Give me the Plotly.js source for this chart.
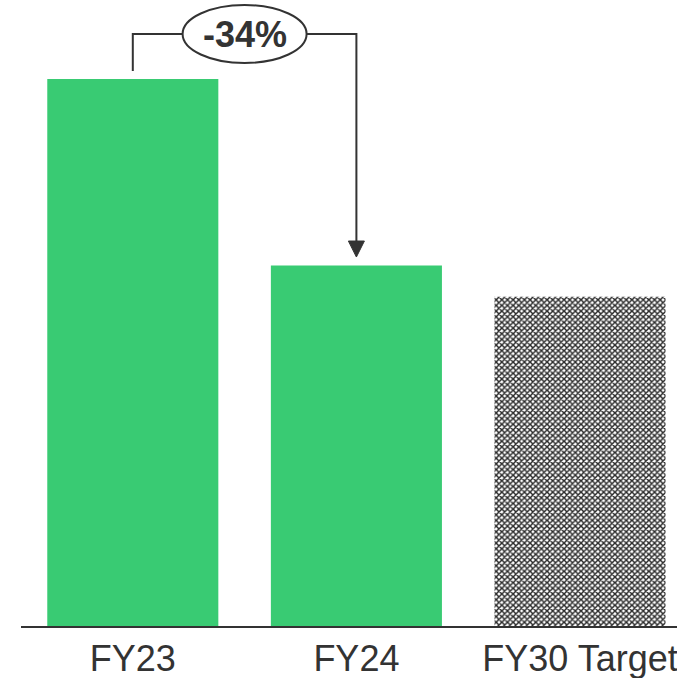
<!DOCTYPE html>
<html>
<head>
<meta charset="utf-8">
<script src="https://cdn.plot.ly/plotly-3.0.1.min.js"></script>
<style>html,body{margin:0;padding:0;background:#fff;}#chart{width:677px;height:678px;}</style>
</head>
<body>
<div id="chart"></div>
<script>
const categories = ['FY23', 'FY24', 'FY30 Target'];
const values = [100, 65.9, 60.2];
const actualIdx = [0, 1];
const targetIdx = [2];

const W = 677, H = 678;
const margin = {l: 21, r: 0, t: 0, b: 52};
const plotW = W - margin.l - margin.r;
const plotH = H - margin.t - margin.b;
const xRange = [-0.5, -0.5 + plotW / 223.6];
const yRange = [0, 114.44];
const pxX = plotW / (xRange[1] - xRange[0]);
const pxY = plotH / (yRange[1] - yRange[0]);
const dark = '#333333';
const green = '#39CB73';
const barW = 0.765;

const i0 = 0, i1 = 1;
const yStart = values[i0] + 8 / pxY;
const yTop = yRange[1] - 34 / pxY;
const yTip = values[i1] + 8.5 / pxY;
const headH = 16 / pxY, headHalf = 8 / pxX;
const pct = Math.round((values[i1] - values[i0]) / values[i0] * 100);
const ellRx = 62 / pxX, ellRy = 29 / pxY;
const xMid = (i0 + i1) / 2;

const shapes = [
  {type: 'path', xref: 'x', yref: 'y',
   path: `M${i0},${yStart} L${i0},${yTop} L${i1},${yTop} L${i1},${yTip + headH}`,
   line: {color: dark, width: 2}},
  {type: 'path', xref: 'x', yref: 'y',
   path: `M${i1 - headHalf},${yTip + headH} L${i1 + headHalf},${yTip + headH} L${i1},${yTip} Z`,
   fillcolor: dark, line: {color: dark, width: 1}},
  {type: 'circle', xref: 'x', yref: 'y',
   x0: xMid - ellRx, x1: xMid + ellRx, y0: yTop - ellRy, y1: yTop + ellRy,
   fillcolor: '#ffffff', line: {color: dark, width: 2}}
];

const traceActual = {
  type: 'bar',
  x: actualIdx, y: actualIdx.map(i => values[i]), width: barW,
  marker: {color: green, line: {width: 0}},
  hoverinfo: 'skip'
};
const traceTarget = {
  type: 'bar',
  x: targetIdx, y: targetIdx.map(i => values[i]), width: barW,
  marker: {
    color: '#ffffff', line: {width: 0},
    pattern: {shape: 'x', fgcolor: '#2a2a2a', bgcolor: '#ffffff', size: 4, solidity: 0.6}
  },
  hoverinfo: 'skip'
};

const layout = {
  width: W, height: H,
  margin: margin,
  paper_bgcolor: '#ffffff', plot_bgcolor: '#ffffff',
  showlegend: false,
  barmode: 'overlay',
  font: {family: 'Liberation Sans, Arial, sans-serif', color: dark},
  xaxis: {
    range: xRange, tickvals: [0, 1, 2], ticktext: categories,
    showline: true, linecolor: dark, linewidth: 2,
    showgrid: false, zeroline: false, ticks: '',
    ticklabeloverflow: 'allow',
    tickfont: {size: 36, color: dark, family: 'Liberation Sans, Arial, sans-serif'},
    fixedrange: true
  },
  yaxis: {range: yRange, visible: false, showgrid: false, zeroline: false, fixedrange: true},
  shapes: shapes,
  annotations: [{
    x: xMid, y: yTop, xref: 'x', yref: 'y', text: '<b>' + pct + '%</b>', showarrow: false,
    font: {size: 36, color: dark, family: 'Liberation Sans, Arial, sans-serif'},
    xanchor: 'center', yanchor: 'middle'
  }]
};

Plotly.newPlot('chart', [traceActual, traceTarget], layout, {staticPlot: true, displayModeBar: false});
</script>
</body>
</html>
